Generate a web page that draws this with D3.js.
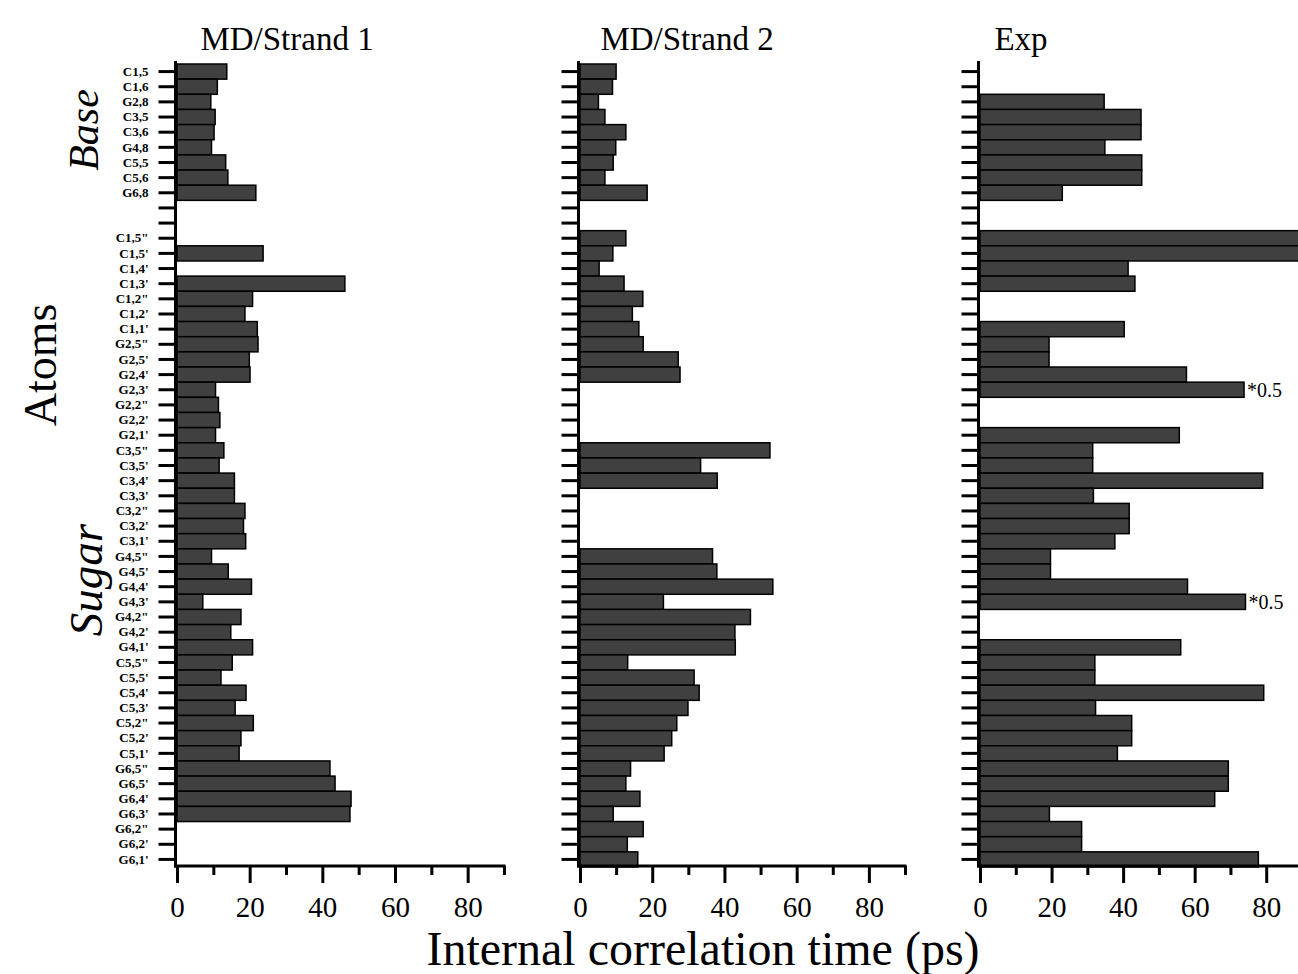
<!DOCTYPE html>
<html>
<head>
<meta charset="utf-8">
<script src="https://cdn.jsdelivr.net/npm/d3@7"></script>
<style>
  html, body { margin: 0; padding: 0; background: #fff; }
  svg { display: block; }
  text { font-family: "Liberation Serif", "Times New Roman", serif; fill: #000; }
</style>
</head>
<body>
<svg id="chart" width="1298" height="974"></svg>
<script>
// ---------- DATA ----------
const baseAtoms = ["C1,5", "C1,6", "G2,8", "C3,5", "C3,6", "G4,8", "C5,5", "C5,6", "G6,8"];
const gapRows = ["", ""];
const sugarAtoms = [
  "C1,5\"", "C1,5'", "C1,4'", "C1,3'", "C1,2\"", "C1,2'", "C1,1'",
  "G2,5\"", "G2,5'", "G2,4'", "G2,3'", "G2,2\"", "G2,2'", "G2,1'",
  "C3,5\"", "C3,5'", "C3,4'", "C3,3'", "C3,2\"", "C3,2'", "C3,1'",
  "G4,5\"", "G4,5'", "G4,4'", "G4,3'", "G4,2\"", "G4,2'", "G4,1'",
  "C5,5\"", "C5,5'", "C5,4'", "C5,3'", "C5,2\"", "C5,2'", "C5,1'",
  "G6,5\"", "G6,5'", "G6,4'", "G6,3'", "G6,2\"", "G6,2'", "G6,1'"
];

// MD / Strand 1 (ps)
const strand1Base  = [13.7, 11.1, 9.3, 10.5, 10.2, 9.5, 13.4, 14.0, 21.7];
const strand1Sugar = [
  0, 23.7, 0, 46.2, 20.8, 18.7, 22.1,
  22.3, 19.9, 20.1, 10.6, 11.4, 11.8, 10.6,
  12.9, 11.6, 15.8, 15.8, 18.7, 18.3, 18.9,
  9.5, 14.1, 20.5, 7.1, 17.6, 14.8, 20.8,
  15.2, 12.1, 19.0, 16.0, 21.0, 17.6, 17.1,
  42.1, 43.5, 47.9, 47.6, 0, 0, 0
];
// MD / Strand 2 (ps)
const strand2Base  = [10.0, 9.0, 5.1, 6.9, 12.7, 9.9, 9.2, 6.9, 18.6];
const strand2Sugar = [
  12.7, 9.1, 5.3, 12.2, 17.4, 14.5, 16.3,
  17.5, 27.2, 27.7, 0, 0, 0, 0,
  52.6, 33.4, 38.0, 0, 0, 0, 0,
  36.7, 37.9, 53.4, 23.1, 47.2, 42.9, 43.0,
  13.2, 31.6, 33.0, 29.9, 26.8, 25.4, 23.3,
  14.0, 12.7, 16.6, 9.2, 17.5, 13.1, 16.0
];
// Experiment (ps)
const expBase  = [0, 0, 34.7, 45.0, 45.0, 34.9, 45.2, 45.2, 23.0];
const expSugar = [
  92, 92, 41.4, 43.3, 0, 0, 40.3,
  19.3, 19.3, 57.7, 73.8, 0, 0, 55.7,
  31.5, 31.5, 79.0, 31.7, 41.7, 41.7, 37.7,
  19.7, 19.7, 58.0, 74.2, 0, 0, 56.1,
  32.1, 32.1, 79.3, 32.3, 42.4, 42.4, 38.4,
  69.4, 69.4, 65.6, 19.4, 28.4, 28.4, 77.8
];
// annotated (scaled) bars in Exp panel
const expNotes = [{atom: "G2,3'", text: "*0.5"}, {atom: "G4,3'", text: "*0.5"}];

const panelTitles = ["MD/Strand 1", "MD/Strand 2", "Exp"];
const majorTicks = [0, 20, 40, 60, 80];
const minorTicks = [10, 30, 50, 70, 90];
const xDomain = [0, 90];

// ---------- BUILD ----------
const rowLabels = [...baseAtoms, ...gapRows, ...sugarAtoms];
const nGap = gapRows.map(() => 0);
const seriesList = [
  [...strand1Base, ...nGap, ...strand1Sugar],
  [...strand2Base, ...nGap, ...strand2Sugar],
  [...expBase, ...nGap, ...expSugar]
];

const svg = d3.select("#chart");
const W = 1298, H = 974;
svg.append("rect").attr("width", W).attr("height", H).attr("fill", "#fff");

const y = d3.scaleBand()
  .domain(d3.range(rowLabels.length))
  .range([64, 867])
  .padding(0);

const layout = [
  {x0: 177, x1: 504, titleX: 287},
  {x0: 580, x1: 905, titleX: 687},
  {x0: 980, x1: 1302, titleX: 1021}
];
const axisY = 866;

layout.forEach((L, p) => {
  const x = d3.scaleLinear().domain(xDomain).range([L.x0, L.x1]);
  const g = svg.append("g");
  const vals = seriesList[p];

  // bars
  g.append("g").selectAll("rect")
    .data(vals.map((v, i) => ({v, i})).filter(d => d.v > 0))
    .join("rect")
    .attr("x", x(0))
    .attr("y", d => y(d.i))
    .attr("width", d => x(d.v) - x(0))
    .attr("height", y.bandwidth())
    .attr("fill", "#404040")
    .attr("stroke", "#000")
    .attr("stroke-width", 1.5);

  // y axis
  const yAxis = d3.axisLeft(y)
    .tickSize(17)
    .tickSizeOuter(0)
    .tickPadding(10)
    .tickFormat(i => p === 0 ? rowLabels[i] : "");
  const ya = g.append("g")
    .attr("transform", `translate(${L.x0 - 1.5},0)`)
    .call(yAxis);
  ya.select(".domain").remove();
  ya.selectAll(".tick line").attr("stroke", "#000").attr("stroke-width", 3);
  ya.selectAll(".tick text")
    .style("font-size", "13px")
    .style("font-weight", "bold")
    .attr("font-family", null);
  g.append("line")
    .attr("x1", L.x0 - 1.5).attr("x2", L.x0 - 1.5)
    .attr("y1", 61).attr("y2", axisY + 1.5)
    .attr("stroke", "#000").attr("stroke-width", 3);

  // x axis: major + minor
  const xa = g.append("g")
    .attr("transform", `translate(0,${axisY})`)
    .call(d3.axisBottom(x).tickValues(majorTicks).tickSize(17).tickSizeOuter(0).tickPadding(13));
  xa.select(".domain").remove();
  xa.selectAll(".tick line").attr("stroke", "#000").attr("stroke-width", 3);
  xa.selectAll(".tick text").style("font-size", "29px").attr("font-family", null);

  const xm = g.append("g")
    .attr("transform", `translate(0,${axisY})`)
    .call(d3.axisBottom(x).tickValues(minorTicks).tickSize(9).tickSizeOuter(0).tickFormat(""));
  xm.select(".domain").remove();
  xm.selectAll(".tick line").attr("stroke", "#000").attr("stroke-width", 3);

  g.append("line")
    .attr("x1", L.x0 - 3).attr("x2", x(xDomain[1]) + 1.5)
    .attr("y1", axisY).attr("y2", axisY)
    .attr("stroke", "#000").attr("stroke-width", 3);

  // title
  svg.append("text")
    .attr("x", L.titleX).attr("y", 50)
    .attr("text-anchor", "middle")
    .style("font-size", "33px")
    .text(panelTitles[p]);

  // notes
  if (p === 2) {
    expNotes.forEach(n => {
      const i = rowLabels.indexOf(n.atom);
      svg.append("text")
        .attr("x", x(vals[i]) + 3)
        .attr("y", y(i) + y.bandwidth() / 2)
        .attr("dy", "0.35em")
        .style("font-size", "20px")
        .text(n.text);
    });
  }
});

// side labels
svg.append("text")
  .attr("transform", "translate(56,365) rotate(-90)")
  .attr("text-anchor", "middle")
  .style("font-size", "46px")
  .text("Atoms");
svg.append("text")
  .attr("transform", "translate(98,130) rotate(-90)")
  .attr("text-anchor", "middle")
  .style("font-size", "42px")
  .style("font-style", "italic")
  .text("Base");
svg.append("text")
  .attr("transform", "translate(102,580) rotate(-90)")
  .attr("text-anchor", "middle")
  .style("font-size", "47px")
  .style("font-style", "italic")
  .text("Sugar");

svg.append("text")
  .attr("x", 703).attr("y", 965)
  .attr("text-anchor", "middle")
  .style("font-size", "48px")
  .text("Internal correlation time (ps)");
</script>
</body>
</html>
